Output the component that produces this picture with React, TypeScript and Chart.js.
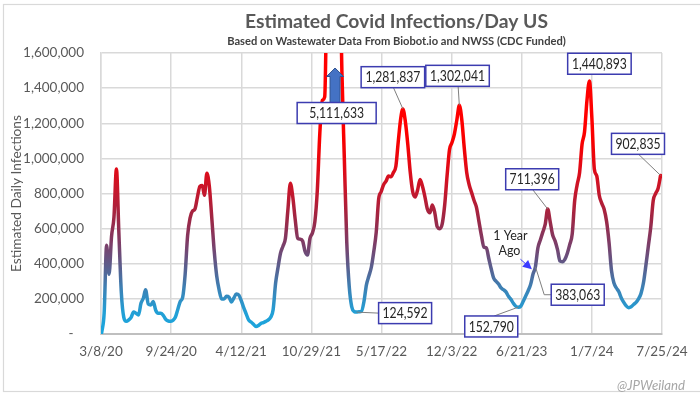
import React, { useEffect, useRef } from "react";
import { Chart, registerables } from "chart.js";

Chart.register(...registerables);

// ---------------- DATA ----------------
const startDate = "2020-03-08";
const xTickDays = [0, 200, 400, 600, 800, 1000, 1200, 1400, 1600];
const yTickValues = [0, 200000, 400000, 600000, 800000, 1000000, 1200000, 1400000, 1600000];

// days since 3/8/20 (weekly readings)
const dayOffsets = [
  2, 9, 16, 23, 30, 37, 44, 51, 58, 65, 72, 79, 86, 93, 100, 107, 114, 121, 127, 135,
  142, 149, 156, 163, 170, 177, 184, 191, 198, 205, 212, 219, 226, 233, 240, 247, 254, 261, 268, 275,
  282, 289, 295, 302, 309, 316, 323, 330, 337, 344, 351, 358, 365, 372, 379, 386, 393, 400, 407, 414,
  421, 428, 435, 442, 449, 456, 463, 470, 477, 484, 491, 498, 505, 512, 519, 526, 533, 540, 547, 554,
  561, 568, 575, 582, 589, 596, 603, 610, 617, 624, 631, 638, 645, 652, 659, 666, 673, 680, 687, 694,
  701, 708, 715, 722, 729, 736, 743, 750, 757, 764, 771, 778, 785, 792, 799, 806, 813, 820, 827, 834,
  841, 848, 855, 861, 868, 875, 882, 889, 896, 903, 910, 917, 924, 931, 938, 945, 952, 959, 966, 973,
  980, 987, 994, 1001, 1008, 1015, 1022, 1029, 1036, 1043, 1050, 1057, 1064, 1071, 1078, 1085, 1092, 1099, 1106, 1113,
  1120, 1127, 1134, 1141, 1148, 1155, 1162, 1169, 1176, 1183, 1190, 1197, 1204, 1211, 1218, 1225, 1232, 1239, 1246, 1253,
  1260, 1267, 1274, 1281, 1288, 1295, 1302, 1309, 1316, 1323, 1330, 1337, 1344, 1351, 1358, 1365, 1372, 1379, 1386, 1393,
  1400, 1407, 1414, 1421, 1428, 1435, 1442, 1449, 1456, 1463, 1470, 1477, 1484, 1491, 1498, 1505, 1512, 1519, 1526, 1533,
  1540, 1547, 1554, 1561, 1568, 1575, 1582, 1589, 1596,
];

const infections = [
  8000, 120000, 505000, 340000, 555000, 665000, 940000, 575000, 235000, 95000, 72000, 80000, 95000, 125000, 118000, 108000, 175000, 205000, 252000, 170000,
  165000, 185000, 135000, 118000, 118000, 108000, 85000, 75000, 72000, 78000, 95000, 140000, 185000, 210000, 340000, 560000, 660000, 700000, 712000, 780000,
  840000, 845000, 790000, 915000, 840000, 660000, 470000, 330000, 250000, 200000, 200000, 215000, 210000, 182000, 205000, 228000, 222000, 190000, 150000, 115000,
  80000, 68000, 55000, 42000, 48000, 60000, 65000, 72000, 80000, 95000, 140000, 290000, 380000, 460000, 500000, 545000, 706000, 858000, 780000, 650000,
  545000, 540000, 530000, 470000, 450000, 545000, 575000, 640000, 820000, 1140000, 1330000, 1350000, 2200000, 3600000, 5111633, 4600000, 3300000, 2200000, 1500000, 1000000,
  520000, 270000, 156000, 128000, 124592, 127000, 130000, 185000, 280000, 330000, 380000, 470000, 580000, 770000, 810000, 850000, 870000, 900000, 895000, 920000,
  955000, 1100000, 1230000, 1281837, 1210000, 1080000, 920000, 810000, 780000, 820000, 880000, 840000, 780000, 710000, 690000, 735000, 690000, 610000, 600000, 625000,
  730000, 900000, 1050000, 1090000, 1140000, 1220000, 1302041, 1220000, 1060000, 920000, 850000, 805000, 760000, 720000, 640000, 560000, 495000, 490000, 430000, 370000,
  318000, 300000, 285000, 262000, 252000, 240000, 215000, 198000, 175000, 158000, 152790, 158000, 185000, 215000, 245000, 280000, 340000, 383063, 490000, 535000,
  580000, 625000, 711396, 640000, 565000, 530000, 480000, 415000, 412000, 425000, 460000, 510000, 570000, 760000, 850000, 920000, 1080000, 1150000, 1330000, 1440893,
  1230000, 940000, 900000, 790000, 745000, 710000, 640000, 520000, 360000, 290000, 262000, 240000, 205000, 180000, 160000, 150000, 155000, 168000, 180000, 200000,
  230000, 290000, 390000, 500000, 610000, 760000, 800000, 830000, 902835,
];

// labelled points (values are looked up in the series above)
const calloutValues = [5111633, 124592, 1281837, 1302041, 152790, 383063, 711396, 1440893, 902835];

const titleText = "Estimated Covid Infections/Day US";
const subtitleText = "Based on Wastewater Data From Biobot.io and NWSS (CDC Funded)";
const yAxisTitle = "Estimated Daily Infections";
const noteLines = ["1 Year", "Ago"];
const watermark = "@JPWeiland";

// ---------------- HELPERS ----------------
const fmtNum = (v: number) => v.toLocaleString("en-US");
const fmtDate = (days: number) => {
  const d = new Date(startDate + "T00:00:00Z");
  d.setUTCDate(d.getUTCDate() + days);
  return `${d.getUTCMonth() + 1}/${d.getUTCDate()}/${String(d.getUTCFullYear()).slice(2)}`;
};

// layout of callouts (offsets in px from the labelled point)
type Callout = { dx: number; dy: number; leader: "none" | "bottom" | "left" | "top" | "elbow" | "arrowUp" };
const calloutLayout: Callout[] = [
  { dx: 4.6, dy: 0, leader: "arrowUp" },
  { dx: 48.5, dy: 1, leader: "left" },
  { dx: -10, dy: -31.7, leader: "bottom" },
  { dx: -1.8, dy: -29.5, leader: "bottom" },
  { dx: -27, dy: 19.3, leader: "top" },
  { dx: 42.3, dy: 28, leader: "elbow" },
  { dx: -15.5, dy: -29.8, leader: "bottom" },
  { dx: 10, dy: -17.2, leader: "none" },
  { dx: -22.6, dy: -31.6, leader: "bottom" },
];

const FONT = "Lato, 'Open Sans', sans-serif";

const decorPlugin = {
  id: "decor",
  beforeDraw(chart: any) {
    const c = chart.ctx as CanvasRenderingContext2D;
    c.save();
    c.fillStyle = "#ffffff";
    c.fillRect(0, 0, chart.width, chart.height);
    // outer frame
    c.strokeStyle = "#d9d9d9";
    c.lineWidth = 1.2;
    c.strokeRect(3.5, 4.5, 702, 387);
    c.restore();
  },
  afterDraw(chart: any) {
    const c = chart.ctx as CanvasRenderingContext2D;
    const xs = chart.scales.x;
    const ys = chart.scales.y;
    const area = chart.chartArea;
    c.save();

    const fitSize = (txt: string, weight: string, base: number, target: number) => {
      c.font = `${weight} ${base}px ${FONT}`;
      const w = c.measureText(txt).width;
      return (base * target) / w;
    };
    const fitText = (txt: string, weight: string, base: number, target: number) => {
      const size = fitSize(txt, weight, base, target);
      c.font = `${weight} ${size}px ${FONT}`;
    };

    // title
    c.fillStyle = "#595959";
    c.textAlign = "center";
    c.textBaseline = "middle";
    fitText(titleText, "bold", 20, 303);
    c.fillText(titleText, 396.5, 22);
    fitText(subtitleText, "bold", 11, 339);
    c.fillStyle = "#404040";
    c.fillText(subtitleText, 396.5, 41.5);

    // y axis title
    c.save();
    c.translate(17, 193.5);
    c.rotate(-Math.PI / 2);
    c.fillStyle = "#595959";
    fitText(yAxisTitle, "normal", 14, 157);
    c.fillText(yAxisTitle, 0, 0);
    c.restore();

    // watermark
    c.fillStyle = "#a6a6a6";
    c.textAlign = "right";
    fitText(watermark, "italic", 13, 68);
    c.fillText(watermark, 685, 386);

    // callouts (text drawn at 14.5px, condensed horizontally like the original)
    const boxH = 21;
    const labelFont = `14.5px ${FONT}`;
    c.font = labelFont;
    const squeeze = 55 / c.measureText("1,281,837").width;
    calloutValues.forEach((val, i) => {
      const idx = infections.indexOf(val);
      const lay = calloutLayout[i];
      const ax = xs.getPixelForValue(dayOffsets[idx]);
      const ay = ys.getPixelForValue(Math.min(val, 1600000));
      const label = fmtNum(val);
      let bw = label.length > 7 ? 63.5 : 53;
      const cx = ax + lay.dx;
      let cy = ay + lay.dy;
      if (lay.leader === "arrowUp") {
        bw = 79;
        cy = area.top + 60;
        // arrow
        const axc = ax + 3;
        const tip = area.top + 15;
        const headBase = area.top + 23.5;
        const bottom = cy - boxH / 2;
        c.beginPath();
        c.moveTo(axc, tip);
        c.lineTo(axc + 8.5, headBase);
        c.lineTo(axc + 5, headBase);
        c.lineTo(axc + 5, bottom);
        c.lineTo(axc - 5, bottom);
        c.lineTo(axc - 5, headBase);
        c.lineTo(axc - 8.5, headBase);
        c.closePath();
        c.fillStyle = "#4472C4";
        c.fill();
        c.strokeStyle = "#2F528F";
        c.lineWidth = 1;
        c.stroke();
      }
      const left = cx - bw / 2;
      const top = cy - boxH / 2;
      // leader
      c.strokeStyle = "#7f7f7f";
      c.lineWidth = 1;
      c.beginPath();
      if (lay.leader === "bottom") {
        c.moveTo(ax, ay);
        c.lineTo(cx + 0.6, top + boxH);
      } else if (lay.leader === "left") {
        c.moveTo(ax, ay);
        c.lineTo(left, cy);
      } else if (lay.leader === "top") {
        c.moveTo(ax, ay);
        c.lineTo(cx + 3, top);
      } else if (lay.leader === "elbow") {
        c.moveTo(ax, ay);
        c.lineTo(left - 7, cy);
        c.lineTo(left, cy);
      }
      if (lay.leader !== "none" && lay.leader !== "arrowUp") c.stroke();

      // box
      c.fillStyle = "#ffffff";
      c.fillRect(left, top, bw, boxH);
      c.strokeStyle = "#3c3cb0";
      c.lineWidth = 1.5;
      c.strokeRect(left, top, bw, boxH);
      c.save();
      c.translate(cx, cy + 0.5);
      c.scale(squeeze, 1);
      c.font = labelFont;
      c.fillStyle = "#262626";
      c.textAlign = "center";
      c.textBaseline = "middle";
      c.fillText(label, 0, 0);
      c.restore();

      // "1 Year Ago" note next to the 383,063 point
      if (val === 383063) {
        c.font = `12.5px ${FONT}`;
        c.fillStyle = "#262626";
        c.textAlign = "center";
        c.textBaseline = "middle";
        c.fillText(noteLines[0], ax - 25, ay - 30.5);
        c.fillText(noteLines[1], ax - 26, ay - 16);
        const tx = ax - 3.5, ty = ay + 2.6;
        const sx = ax - 15, sy = ay - 7.5;
        const ang = Math.atan2(ty - sy, tx - sx);
        c.strokeStyle = "#3b3bff";
        c.lineWidth = 1;
        c.beginPath();
        c.moveTo(sx, sy);
        c.lineTo(tx - 6 * Math.cos(ang), ty - 6 * Math.sin(ang));
        c.stroke();
        c.fillStyle = "#3b3bff";
        c.beginPath();
        c.moveTo(tx, ty);
        c.lineTo(tx - 9 * Math.cos(ang) + 4.5 * Math.sin(ang), ty - 9 * Math.sin(ang) - 4.5 * Math.cos(ang));
        c.lineTo(tx - 9 * Math.cos(ang) - 4.5 * Math.sin(ang), ty - 9 * Math.sin(ang) + 4.5 * Math.cos(ang));
        c.closePath();
        c.fill();
      }
    });
    c.restore();
  },
};

const lineGradient = (ctx: any) => {
  const chart = ctx.chart;
  const area = chart.chartArea;
  if (!area) return "#c00000";
  const ys = chart.scales.y;
  const y0 = ys.getPixelForValue(0);
  const y1 = ys.getPixelForValue(1200000);
  const g = chart.ctx.createLinearGradient(0, y0, 0, y1);
  const stops: [number, string][] = [
    [0, "#1aa6de"],
    [120000, "#22a0d6"],
    [250000, "#3a84b8"],
    [380000, "#5a5f8e"],
    [520000, "#7e3c66"],
    [650000, "#9c2846"],
    [800000, "#c2182e"],
    [950000, "#e20a16"],
    [1100000, "#f80000"],
    [1200000, "#ff0000"],
  ];
  stops.forEach(([v, col]) => g.addColorStop(v / 1200000, col));
  return g;
};

export default function App() {
  const ref = useRef<HTMLCanvasElement | null>(null);

  useEffect(() => {
    document.body.style.margin = "0";
    const canvas = ref.current!;
    const points = dayOffsets.map((d, i) => ({ x: d, y: infections[i] }));
    const chart = new Chart(canvas, {
      type: "line",
      data: {
        datasets: [
          {
            data: points,
            borderColor: lineGradient,
            borderWidth: 3.5,
            pointRadius: 0,
            cubicInterpolationMode: "monotone",
            fill: false,
            borderCapStyle: "round",
            borderJoinStyle: "round",
          },
        ],
      },
      options: {
        responsive: false,
        animation: false,
        devicePixelRatio: 1,
        layout: { padding: { top: 53, right: 38, left: 0, bottom: 0 } },
        plugins: { legend: { display: false }, tooltip: { enabled: false }, title: { display: false } },
        scales: {
          x: {
            type: "linear",
            min: xTickDays[0],
            max: xTickDays[xTickDays.length - 1],
            afterBuildTicks: (s: any) => {
              s.ticks = xTickDays.map((v) => ({ value: v }));
            },
            afterFit: (s: any) => {
              s.height = 62;
            },
            ticks: {
              callback: (v: any) => fmtDate(Number(v)),
              font: { family: FONT, size: 13.5 },
              color: "#595959",
              padding: 10,
              maxRotation: 0,
              autoSkip: false,
            },
            grid: { color: "#d9d9d9", lineWidth: 1.5, drawTicks: false },
            border: { color: "#bfbfbf", width: 2 },
          },
          y: {
            min: 0,
            max: yTickValues[yTickValues.length - 1],
            afterBuildTicks: (s: any) => {
              s.ticks = yTickValues.map((v) => ({ value: v }));
            },
            afterFit: (s: any) => {
              s.width = 101;
            },
            ticks: {
              callback: (v: any) => (Number(v) === 0 ? "-   " : fmtNum(Number(v))),
              font: { family: FONT, size: 13.5 },
              color: "#595959",
              padding: 17,
            },
            grid: { color: "#d9d9d9", lineWidth: 1.5, drawTicks: false },
            border: { color: "#d9d9d9", width: 1.5 },
          },
        },
      },
      plugins: [decorPlugin],
    });
    return () => chart.destroy();
  }, []);

  return (
    <div style={{ position: "absolute", left: 0, top: 0, width: 700, height: 396 }}>
      <canvas ref={ref} width={700} height={396} />
    </div>
  );
}
